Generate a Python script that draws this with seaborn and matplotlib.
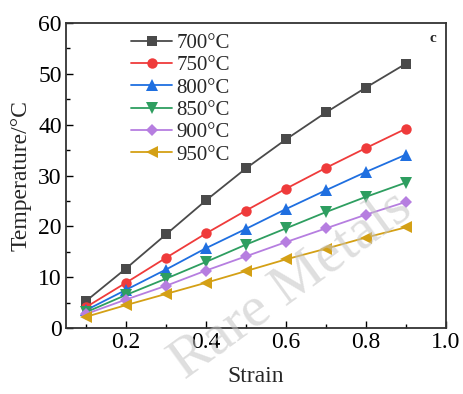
import numpy as np
import pandas as pd
import seaborn as sns
import matplotlib
matplotlib.use("Agg")
import matplotlib.pyplot as plt
from matplotlib.ticker import MultipleLocator

strain = [0.1, 0.2, 0.3, 0.4, 0.5, 0.6, 0.7, 0.8, 0.9]
t700 = [5.3, 11.7, 18.4, 25.1, 31.4, 37.1, 42.4, 47.3, 52.0]
t750 = [4.1, 8.9, 13.8, 18.6, 23.1, 27.4, 31.5, 35.4, 39.2]
t800 = [3.5, 7.5, 11.5, 15.7, 19.5, 23.4, 27.1, 30.7, 34.1]
t850 = [3.1, 6.5, 9.7, 13.0, 16.4, 19.6, 22.8, 25.8, 28.6]
t900 = [2.75, 5.6, 8.3, 11.3, 14.1, 16.9, 19.6, 22.3, 24.8]
t950 = [2.2, 4.5, 6.7, 8.9, 11.2, 13.5, 15.6, 17.8, 19.8]
labels = ["700°C", "750°C", "800°C", "850°C", "900°C", "950°C"]
series = [t700, t750, t800, t850, t900, t950]
colors = ["#4a4a4a", "#ef3b3b", "#1f6fe0", "#2e9e60", "#b67ee0", "#d4a015"]
markers = ["s", "o", "^", "v", "D", "<"]
msizes = [7, 7.5, 8.5, 8.5, 6.5, 8.5]

df = pd.DataFrame({
    "Strain": strain * len(labels),
    "Temp": [v for s in series for v in s],
    "Series": [l for l in labels for _ in strain],
})

sns.set_style("ticks")
plt.rcParams["font.family"] = ["Liberation Serif", "DejaVu Serif"]

fig = plt.figure(figsize=(4.63, 3.94), dpi=100)
ax = fig.add_axes([0.1425, 0.1675, 0.8205, 0.7741])

# watermark
fig.text(0.415, 0.012, "Rare Metals", fontsize=42, color="#c4c4c4", alpha=0.55,
         rotation=36, ha="left", va="bottom", rotation_mode="anchor", zorder=10)

for lab, col, mk, ms in zip(labels, colors, markers, msizes):
    sub = df[df["Series"] == lab]
    sns.lineplot(data=sub, x="Strain", y="Temp", ax=ax, color=col, marker=mk,
                 markersize=ms, markeredgewidth=0, linewidth=1.3, label=lab)

ax.set_xlim(0.05, 1.0)
ax.set_ylim(0, 60)
ax.xaxis.set_minor_locator(MultipleLocator(0.1))
ax.yaxis.set_major_locator(MultipleLocator(10))
ax.yaxis.set_minor_locator(MultipleLocator(5))
ax.set_xticks([0.2, 0.4, 0.6, 0.8, 1.0])
ax.set_xticklabels(["0.2", "0.4", "0.6", "0.8", "1.0"])
ax.tick_params(which="both", direction="in", top=False, right=False, labelsize=17, colors="black")
ax.tick_params(which="major", length=5, width=1, pad=3)
ax.tick_params(which="minor", length=3, width=1)
for sp in ax.spines.values():
    sp.set_visible(True)
    sp.set_linewidth(1.3)
    sp.set_color("#333333")

ax.set_xlabel("Strain", fontsize=17, labelpad=9)
ax.set_ylabel("Temperature/°C", fontsize=17, labelpad=5)

leg = ax.legend(loc="upper left", bbox_to_anchor=(0.135, 1.01), frameon=False, fontsize=15,
                handlelength=2.0, handletextpad=0.2, labelspacing=0.13, borderaxespad=0.25)

ax.text(0.965, 0.95, "c", transform=ax.transAxes, fontsize=11, fontweight="bold",
        ha="center", va="center")

fig.savefig("out.png", dpi=100)
